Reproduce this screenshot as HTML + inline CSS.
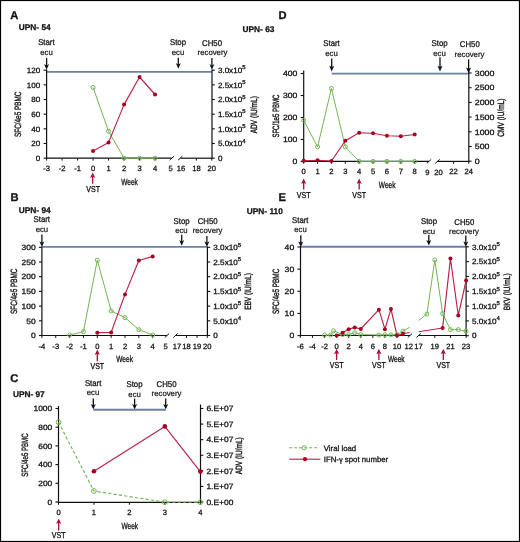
<!DOCTYPE html>
<html><head><meta charset="utf-8"><style>
html,body{margin:0;padding:0;background:#fff;}
body{width:520px;height:542px;overflow:hidden;}
svg{display:block;font-family:"Liberation Sans", sans-serif;will-change:transform;text-rendering:geometricPrecision;}
text{stroke:#111;stroke-width:0.28px;paint-order:stroke;}
text.c{stroke-width:0.3px;}
text.l{stroke-width:0.2px;}
text.y{stroke-width:0.36px;}
text.r{stroke:#ba2249;}
</style></head><body>
<svg width="520" height="542" viewBox="0 0 520 542" font-family='"Liberation Sans", sans-serif'>
<rect x="0" y="0" width="520" height="542" fill="#fff"/>
<rect x="0.5" y="0.5" width="519" height="541" fill="none" stroke="#000" stroke-width="1.2"/>
<text x="10.2" y="19.2" font-size="11.2" text-anchor="start" font-weight="bold" fill="#111">A</text>
<text x="18.8" y="30.1" font-size="8.3" text-anchor="start" font-weight="bold" fill="#111">UPN- 54</text>
<text transform="translate(46.4,44.9) scale(0.93,1)" x="0" y="0" font-size="8.4" text-anchor="middle" fill="#111">Start</text>
<text transform="translate(46.5,55.0) scale(0.985,1)" x="0" y="0" font-size="7.9" text-anchor="middle" fill="#111" class="l">ecu</text>
<line x1="46.6" y1="58.0" x2="46.6" y2="66.3" stroke="#111" stroke-width="1.3"/>
<path d="M46.6,69.8 L49.1,64.1 L47.2,65.2 L46.0,65.2 L44.1,64.1 Z" fill="#111"/>
<text transform="translate(178.0,45.0) scale(0.93,1)" x="0" y="0" font-size="8.4" text-anchor="middle" fill="#111">Stop</text>
<text transform="translate(178.0,55.0) scale(0.985,1)" x="0" y="0" font-size="7.9" text-anchor="middle" fill="#111" class="l">ecu</text>
<line x1="178.3" y1="57.8" x2="178.3" y2="65.3" stroke="#111" stroke-width="1.3"/>
<path d="M178.3,68.8 L180.8,63.099999999999994 L178.9,64.2 L177.70000000000002,64.2 L175.8,63.099999999999994 Z" fill="#111"/>
<text transform="translate(212.0,46.3) scale(0.93,1)" x="0" y="0" font-size="8.4" text-anchor="middle" fill="#111">CH50</text>
<text transform="translate(212.5,55.0) scale(0.985,1)" x="0" y="0" font-size="7.9" text-anchor="middle" fill="#111" class="l">recovery</text>
<line x1="211.9" y1="58.0" x2="211.9" y2="66.3" stroke="#111" stroke-width="1.3"/>
<path d="M211.9,69.8 L214.4,64.1 L212.5,65.2 L211.3,65.2 L209.4,64.1 Z" fill="#111"/>
<line x1="46.6" y1="71.9" x2="212.0" y2="71.9" stroke="#6a80a6" stroke-width="1.9"/>
<line x1="46.6" y1="69.5" x2="46.6" y2="158.7" stroke="#111" stroke-width="1.2"/>
<line x1="212.0" y1="69.5" x2="212.0" y2="158.7" stroke="#111" stroke-width="1.2"/>
<line x1="43.6" y1="70.2" x2="46.6" y2="70.2" stroke="#111" stroke-width="1.1"/>
<text transform="translate(40.300000000000004,72.95) scale(1.05,1)" x="0" y="0" font-size="7.7" text-anchor="end" fill="#111">120</text>
<line x1="43.6" y1="84.86" x2="46.6" y2="84.86" stroke="#111" stroke-width="1.1"/>
<text transform="translate(40.300000000000004,87.61) scale(1.05,1)" x="0" y="0" font-size="7.7" text-anchor="end" fill="#111">100</text>
<line x1="43.6" y1="99.52000000000001" x2="46.6" y2="99.52000000000001" stroke="#111" stroke-width="1.1"/>
<text transform="translate(40.300000000000004,102.27000000000001) scale(1.05,1)" x="0" y="0" font-size="7.7" text-anchor="end" fill="#111">80</text>
<line x1="43.6" y1="114.18" x2="46.6" y2="114.18" stroke="#111" stroke-width="1.1"/>
<text transform="translate(40.300000000000004,116.93) scale(1.05,1)" x="0" y="0" font-size="7.7" text-anchor="end" fill="#111">60</text>
<line x1="43.6" y1="128.84" x2="46.6" y2="128.84" stroke="#111" stroke-width="1.1"/>
<text transform="translate(40.300000000000004,131.59) scale(1.05,1)" x="0" y="0" font-size="7.7" text-anchor="end" fill="#111">40</text>
<line x1="43.6" y1="143.5" x2="46.6" y2="143.5" stroke="#111" stroke-width="1.1"/>
<text transform="translate(40.300000000000004,146.25) scale(1.05,1)" x="0" y="0" font-size="7.7" text-anchor="end" fill="#111">20</text>
<line x1="43.6" y1="158.16000000000003" x2="46.6" y2="158.16000000000003" stroke="#111" stroke-width="1.1"/>
<text transform="translate(40.300000000000004,160.91000000000003) scale(1.05,1)" x="0" y="0" font-size="7.7" text-anchor="end" fill="#111">0</text>
<line x1="212.0" y1="70.2" x2="214.8" y2="70.2" stroke="#111" stroke-width="1.1"/>
<text transform="translate(217.9,72.95) scale(1.05,1)" x="0" y="0" font-size="7.7" fill="#111">3.0x10<tspan font-size="5.698" dy="-3.5">5</tspan></text>
<line x1="212.0" y1="84.86" x2="214.8" y2="84.86" stroke="#111" stroke-width="1.1"/>
<text transform="translate(217.9,87.61) scale(1.05,1)" x="0" y="0" font-size="7.7" fill="#111">2.5x10<tspan font-size="5.698" dy="-3.5">5</tspan></text>
<line x1="212.0" y1="99.52000000000001" x2="214.8" y2="99.52000000000001" stroke="#111" stroke-width="1.1"/>
<text transform="translate(217.9,102.27000000000001) scale(1.05,1)" x="0" y="0" font-size="7.7" fill="#111">2.0x10<tspan font-size="5.698" dy="-3.5">5</tspan></text>
<line x1="212.0" y1="114.18" x2="214.8" y2="114.18" stroke="#111" stroke-width="1.1"/>
<text transform="translate(217.9,116.93) scale(1.05,1)" x="0" y="0" font-size="7.7" fill="#111">1.5x10<tspan font-size="5.698" dy="-3.5">5</tspan></text>
<line x1="212.0" y1="128.84" x2="214.8" y2="128.84" stroke="#111" stroke-width="1.1"/>
<text transform="translate(217.9,131.59) scale(1.05,1)" x="0" y="0" font-size="7.7" fill="#111">1.0x10<tspan font-size="5.698" dy="-3.5">5</tspan></text>
<line x1="212.0" y1="143.5" x2="214.8" y2="143.5" stroke="#111" stroke-width="1.1"/>
<text transform="translate(217.9,146.25) scale(1.05,1)" x="0" y="0" font-size="7.7" fill="#111">5.0x10<tspan font-size="5.698" dy="-3.5">4</tspan></text>
<line x1="212.0" y1="158.16000000000003" x2="214.8" y2="158.16000000000003" stroke="#111" stroke-width="1.1"/>
<text transform="translate(217.9,160.91000000000003) scale(1.05,1)" x="0" y="0" font-size="7.7" text-anchor="start" fill="#111">0</text>
<line x1="46.6" y1="158.2" x2="171.6" y2="158.2" stroke="#111" stroke-width="1.2"/>
<line x1="180.5" y1="158.2" x2="212.0" y2="158.2" stroke="#111" stroke-width="1.2"/>
<line x1="169.60000000000002" y1="160.2" x2="174.0" y2="156.2" stroke="#111" stroke-width="1.0"/>
<line x1="178.0" y1="160.2" x2="182.39999999999998" y2="156.2" stroke="#111" stroke-width="1.0"/>
<line x1="46.6" y1="158.2" x2="46.6" y2="160.6" stroke="#111" stroke-width="1.0"/>
<text x="46.6" y="171.2" font-size="7.6" text-anchor="middle" fill="#111">-3</text>
<line x1="62.09" y1="158.2" x2="62.09" y2="160.6" stroke="#111" stroke-width="1.0"/>
<text x="62.09" y="171.2" font-size="7.6" text-anchor="middle" fill="#111">-2</text>
<line x1="77.58" y1="158.2" x2="77.58" y2="160.6" stroke="#111" stroke-width="1.0"/>
<text x="77.58" y="171.2" font-size="7.6" text-anchor="middle" fill="#111">-1</text>
<line x1="93.07" y1="158.2" x2="93.07" y2="160.6" stroke="#111" stroke-width="1.0"/>
<text x="93.07" y="171.2" font-size="7.6" text-anchor="middle" fill="#111">0</text>
<line x1="108.56" y1="158.2" x2="108.56" y2="160.6" stroke="#111" stroke-width="1.0"/>
<text x="108.56" y="171.2" font-size="7.6" text-anchor="middle" fill="#111">1</text>
<line x1="124.05000000000001" y1="158.2" x2="124.05000000000001" y2="160.6" stroke="#111" stroke-width="1.0"/>
<text x="124.05000000000001" y="171.2" font-size="7.6" text-anchor="middle" fill="#111">2</text>
<line x1="139.54" y1="158.2" x2="139.54" y2="160.6" stroke="#111" stroke-width="1.0"/>
<text x="139.54" y="171.2" font-size="7.6" text-anchor="middle" fill="#111">3</text>
<line x1="155.03" y1="158.2" x2="155.03" y2="160.6" stroke="#111" stroke-width="1.0"/>
<text x="155.03" y="171.2" font-size="7.6" text-anchor="middle" fill="#111">4</text>
<text x="170.52" y="171.2" font-size="7.6" text-anchor="middle" fill="#111">5</text>
<line x1="196.4" y1="158.2" x2="196.4" y2="160.6" stroke="#111" stroke-width="1.0"/>
<text x="196.4" y="171.2" font-size="7.6" text-anchor="middle" fill="#111">18</text>
<line x1="211.8" y1="158.2" x2="211.8" y2="160.6" stroke="#111" stroke-width="1.0"/>
<text x="211.8" y="171.2" font-size="7.6" text-anchor="middle" fill="#111">20</text>
<text x="181.0" y="171.2" font-size="7.6" text-anchor="middle" fill="#111">16</text>
<text transform="translate(129.5,185.2) scale(0.73,1)" x="0" y="0" font-size="9.0" text-anchor="middle" fill="#111" class="c">Week</text>
<line x1="92.7" y1="176.0" x2="92.7" y2="183.7" stroke="#ad0c34" stroke-width="1.3"/>
<path d="M92.7,172.5 L95.3,178.0 L93.3,177.0 L92.10000000000001,177.0 L90.10000000000001,178.0 Z" fill="#ad0c34"/>
<text transform="translate(93.1,191.8) scale(0.82,1)" x="0" y="0" font-size="8.6" text-anchor="middle" fill="#111" class="c">VST</text>
<text class="y" transform="translate(21.0,114.3) rotate(-90) scale(0.7,1)" x="0" y="0" font-size="9.1" text-anchor="middle" fill="#111">SFC/4e5 PBMC</text>
<text class="y" transform="translate(256.7,114.7) rotate(-90) scale(0.72,1)" x="0" y="0" font-size="9.1" text-anchor="middle" fill="#111">ADV (IU/mL)</text>
<polyline points="93.07,87.4 108.56,131.3 124.05000000000001,158.2 139.54,158.2 155.03,158.2" fill="none" stroke="#73b553" stroke-width="1.0" stroke-linejoin="round"/>
<polyline points="93.07,151.1 108.56,142.4 124.05000000000001,104.6 139.54,77.0 155.03,94.5" fill="none" stroke="#ba2249" stroke-width="1.15" stroke-linejoin="round"/>
<circle cx="93.07" cy="87.4" r="2.0" fill="none" stroke="#73b553" stroke-width="1"/>
<circle cx="108.56" cy="131.3" r="2.0" fill="none" stroke="#73b553" stroke-width="1"/>
<circle cx="124.05000000000001" cy="158.2" r="2.0" fill="none" stroke="#73b553" stroke-width="1"/>
<circle cx="139.54" cy="158.2" r="2.0" fill="none" stroke="#73b553" stroke-width="1"/>
<circle cx="155.03" cy="158.2" r="2.0" fill="none" stroke="#73b553" stroke-width="1"/>
<circle cx="93.07" cy="151.1" r="2.0" fill="#a5001f"/>
<circle cx="108.56" cy="142.4" r="2.0" fill="#a5001f"/>
<circle cx="124.05000000000001" cy="104.6" r="2.0" fill="#a5001f"/>
<circle cx="139.54" cy="77.0" r="2.0" fill="#a5001f"/>
<circle cx="155.03" cy="94.5" r="2.0" fill="#a5001f"/>
<text x="10.5" y="201.0" font-size="11.2" text-anchor="start" font-weight="bold" fill="#111">B</text>
<text x="18.8" y="213.2" font-size="8.3" text-anchor="start" font-weight="bold" fill="#111">UPN- 94</text>
<text transform="translate(41.8,222.4) scale(0.93,1)" x="0" y="0" font-size="8.4" text-anchor="middle" fill="#111">Start</text>
<text transform="translate(41.9,231.6) scale(0.985,1)" x="0" y="0" font-size="7.9" text-anchor="middle" fill="#111" class="l">ecu</text>
<line x1="41.9" y1="234.6" x2="41.9" y2="243.5" stroke="#111" stroke-width="1.3"/>
<path d="M41.9,247.0 L44.4,241.3 L42.5,242.4 L41.3,242.4 L39.4,241.3 Z" fill="#111"/>
<text transform="translate(181.6,224.0) scale(0.93,1)" x="0" y="0" font-size="8.4" text-anchor="middle" fill="#111">Stop</text>
<text transform="translate(181.4,233.3) scale(0.985,1)" x="0" y="0" font-size="7.9" text-anchor="middle" fill="#111" class="l">ecu</text>
<line x1="181.7" y1="234.8" x2="181.7" y2="242.3" stroke="#111" stroke-width="1.3"/>
<path d="M181.7,245.8 L184.2,240.10000000000002 L182.29999999999998,241.20000000000002 L181.1,241.20000000000002 L179.2,240.10000000000002 Z" fill="#111"/>
<text transform="translate(207.6,223.9) scale(0.93,1)" x="0" y="0" font-size="8.4" text-anchor="middle" fill="#111">CH50</text>
<text transform="translate(207.6,232.6) scale(0.985,1)" x="0" y="0" font-size="7.9" text-anchor="middle" fill="#111" class="l">recovery</text>
<line x1="206.9" y1="236.0" x2="206.9" y2="243.5" stroke="#111" stroke-width="1.3"/>
<path d="M206.9,247.0 L209.4,241.3 L207.5,242.4 L206.3,242.4 L204.4,241.3 Z" fill="#111"/>
<line x1="41.9" y1="246.9" x2="207.4" y2="246.9" stroke="#6a80a6" stroke-width="1.9"/>
<line x1="41.9" y1="246.5" x2="41.9" y2="336.0" stroke="#111" stroke-width="1.2"/>
<line x1="207.4" y1="246.5" x2="207.4" y2="336.0" stroke="#111" stroke-width="1.2"/>
<line x1="38.9" y1="247.3" x2="41.9" y2="247.3" stroke="#111" stroke-width="1.1"/>
<text transform="translate(35.6,250.05) scale(1.1,1)" x="0" y="0" font-size="7.7" text-anchor="end" fill="#111">300</text>
<line x1="38.9" y1="262.0" x2="41.9" y2="262.0" stroke="#111" stroke-width="1.1"/>
<text transform="translate(35.6,264.75) scale(1.1,1)" x="0" y="0" font-size="7.7" text-anchor="end" fill="#111">250</text>
<line x1="38.9" y1="276.7" x2="41.9" y2="276.7" stroke="#111" stroke-width="1.1"/>
<text transform="translate(35.6,279.45) scale(1.1,1)" x="0" y="0" font-size="7.7" text-anchor="end" fill="#111">200</text>
<line x1="38.9" y1="291.4" x2="41.9" y2="291.4" stroke="#111" stroke-width="1.1"/>
<text transform="translate(35.6,294.15) scale(1.1,1)" x="0" y="0" font-size="7.7" text-anchor="end" fill="#111">150</text>
<line x1="38.9" y1="306.1" x2="41.9" y2="306.1" stroke="#111" stroke-width="1.1"/>
<text transform="translate(35.6,308.85) scale(1.1,1)" x="0" y="0" font-size="7.7" text-anchor="end" fill="#111">100</text>
<line x1="38.9" y1="320.8" x2="41.9" y2="320.8" stroke="#111" stroke-width="1.1"/>
<text transform="translate(35.6,323.55) scale(1.1,1)" x="0" y="0" font-size="7.7" text-anchor="end" fill="#111">50</text>
<line x1="38.9" y1="335.5" x2="41.9" y2="335.5" stroke="#111" stroke-width="1.1"/>
<text transform="translate(35.6,338.25) scale(1.1,1)" x="0" y="0" font-size="7.7" text-anchor="end" fill="#111">0</text>
<line x1="207.4" y1="247.3" x2="210.20000000000002" y2="247.3" stroke="#111" stroke-width="1.1"/>
<text transform="translate(213.3,250.05) scale(1.06,1)" x="0" y="0" font-size="7.7" fill="#111">3.0x10<tspan font-size="5.698" dy="-3.5">5</tspan></text>
<line x1="207.4" y1="262.0" x2="210.20000000000002" y2="262.0" stroke="#111" stroke-width="1.1"/>
<text transform="translate(213.3,264.75) scale(1.06,1)" x="0" y="0" font-size="7.7" fill="#111">2.5x10<tspan font-size="5.698" dy="-3.5">5</tspan></text>
<line x1="207.4" y1="276.7" x2="210.20000000000002" y2="276.7" stroke="#111" stroke-width="1.1"/>
<text transform="translate(213.3,279.45) scale(1.06,1)" x="0" y="0" font-size="7.7" fill="#111">2.0x10<tspan font-size="5.698" dy="-3.5">5</tspan></text>
<line x1="207.4" y1="291.4" x2="210.20000000000002" y2="291.4" stroke="#111" stroke-width="1.1"/>
<text transform="translate(213.3,294.15) scale(1.06,1)" x="0" y="0" font-size="7.7" fill="#111">1.5x10<tspan font-size="5.698" dy="-3.5">5</tspan></text>
<line x1="207.4" y1="306.1" x2="210.20000000000002" y2="306.1" stroke="#111" stroke-width="1.1"/>
<text transform="translate(213.3,308.85) scale(1.06,1)" x="0" y="0" font-size="7.7" fill="#111">1.0x10<tspan font-size="5.698" dy="-3.5">5</tspan></text>
<line x1="207.4" y1="320.8" x2="210.20000000000002" y2="320.8" stroke="#111" stroke-width="1.1"/>
<text transform="translate(213.3,323.55) scale(1.06,1)" x="0" y="0" font-size="7.7" fill="#111">5.0x10<tspan font-size="5.698" dy="-3.5">4</tspan></text>
<line x1="207.4" y1="335.5" x2="210.20000000000002" y2="335.5" stroke="#111" stroke-width="1.1"/>
<text transform="translate(213.3,338.25) scale(1.06,1)" x="0" y="0" font-size="7.7" text-anchor="start" fill="#111">0</text>
<line x1="41.9" y1="335.5" x2="167.0" y2="335.5" stroke="#111" stroke-width="1.2"/>
<line x1="175.5" y1="335.5" x2="207.4" y2="335.5" stroke="#111" stroke-width="1.2"/>
<line x1="164.8" y1="337.5" x2="169.2" y2="333.5" stroke="#111" stroke-width="1.0"/>
<line x1="173.3" y1="337.5" x2="177.7" y2="333.5" stroke="#111" stroke-width="1.0"/>
<line x1="41.9" y1="335.5" x2="41.9" y2="337.9" stroke="#111" stroke-width="1.0"/>
<text x="41.9" y="348.5" font-size="7.6" text-anchor="middle" fill="#111">-4</text>
<line x1="55.75" y1="335.5" x2="55.75" y2="337.9" stroke="#111" stroke-width="1.0"/>
<text x="55.75" y="348.5" font-size="7.6" text-anchor="middle" fill="#111">-3</text>
<line x1="69.6" y1="335.5" x2="69.6" y2="337.9" stroke="#111" stroke-width="1.0"/>
<text x="69.6" y="348.5" font-size="7.6" text-anchor="middle" fill="#111">-2</text>
<line x1="83.44999999999999" y1="335.5" x2="83.44999999999999" y2="337.9" stroke="#111" stroke-width="1.0"/>
<text x="83.44999999999999" y="348.5" font-size="7.6" text-anchor="middle" fill="#111">-1</text>
<line x1="97.3" y1="335.5" x2="97.3" y2="337.9" stroke="#111" stroke-width="1.0"/>
<text x="97.3" y="348.5" font-size="7.6" text-anchor="middle" fill="#111">0</text>
<line x1="111.15" y1="335.5" x2="111.15" y2="337.9" stroke="#111" stroke-width="1.0"/>
<text x="111.15" y="348.5" font-size="7.6" text-anchor="middle" fill="#111">1</text>
<line x1="125.0" y1="335.5" x2="125.0" y2="337.9" stroke="#111" stroke-width="1.0"/>
<text x="125.0" y="348.5" font-size="7.6" text-anchor="middle" fill="#111">2</text>
<line x1="138.85" y1="335.5" x2="138.85" y2="337.9" stroke="#111" stroke-width="1.0"/>
<text x="138.85" y="348.5" font-size="7.6" text-anchor="middle" fill="#111">3</text>
<line x1="152.7" y1="335.5" x2="152.7" y2="337.9" stroke="#111" stroke-width="1.0"/>
<text x="152.7" y="348.5" font-size="7.6" text-anchor="middle" fill="#111">4</text>
<text x="165.6" y="348.5" font-size="7.6" text-anchor="middle" fill="#111">5</text>
<line x1="186.5" y1="335.5" x2="186.5" y2="337.9" stroke="#111" stroke-width="1.0"/>
<text x="186.5" y="348.5" font-size="7.6" text-anchor="middle" fill="#111">18</text>
<line x1="197.0" y1="335.5" x2="197.0" y2="337.9" stroke="#111" stroke-width="1.0"/>
<text x="197.0" y="348.5" font-size="7.6" text-anchor="middle" fill="#111">19</text>
<line x1="207.3" y1="335.5" x2="207.3" y2="337.9" stroke="#111" stroke-width="1.0"/>
<text x="207.3" y="348.5" font-size="7.6" text-anchor="middle" fill="#111">20</text>
<text x="176.9" y="348.5" font-size="7.6" text-anchor="middle" fill="#111">17</text>
<text transform="translate(124.6,362.2) scale(0.73,1)" x="0" y="0" font-size="9.0" text-anchor="middle" fill="#111" class="c">Week</text>
<line x1="97.3" y1="353.1" x2="97.3" y2="361.2" stroke="#ad0c34" stroke-width="1.3"/>
<path d="M97.3,349.6 L99.89999999999999,355.1 L97.89999999999999,354.1 L96.7,354.1 L94.7,355.1 Z" fill="#ad0c34"/>
<text transform="translate(97.3,369.0) scale(0.82,1)" x="0" y="0" font-size="8.6" text-anchor="middle" fill="#111" class="c">VST</text>
<text class="y" transform="translate(16.5,291.3) rotate(-90) scale(0.7,1)" x="0" y="0" font-size="9.1" text-anchor="middle" fill="#111">SFC/4e5 PBMC</text>
<text class="y" transform="translate(251.1,291.5) rotate(-90) scale(0.72,1)" x="0" y="0" font-size="9.1" text-anchor="middle" fill="#111">EBV (IU/mL)</text>
<polyline points="69.6,335.0 83.44999999999999,331.7 97.3,260.2 111.15,310.9 125.0,317.6 138.85,329.7 152.7,335.0" fill="none" stroke="#73b553" stroke-width="1.0" stroke-linejoin="round"/>
<polyline points="97.3,332.8 111.15,332.4 125.0,294.4 138.85,260.5 152.7,256.4" fill="none" stroke="#ba2249" stroke-width="1.15" stroke-linejoin="round"/>
<circle cx="69.6" cy="335.0" r="2.0" fill="none" stroke="#73b553" stroke-width="1"/>
<circle cx="83.44999999999999" cy="331.7" r="2.0" fill="none" stroke="#73b553" stroke-width="1"/>
<circle cx="97.3" cy="260.2" r="2.0" fill="none" stroke="#73b553" stroke-width="1"/>
<circle cx="111.15" cy="310.9" r="2.0" fill="none" stroke="#73b553" stroke-width="1"/>
<circle cx="125.0" cy="317.6" r="2.0" fill="none" stroke="#73b553" stroke-width="1"/>
<circle cx="138.85" cy="329.7" r="2.0" fill="none" stroke="#73b553" stroke-width="1"/>
<circle cx="152.7" cy="335.0" r="2.0" fill="none" stroke="#73b553" stroke-width="1"/>
<circle cx="97.3" cy="332.8" r="2.0" fill="#a5001f"/>
<circle cx="111.15" cy="332.4" r="2.0" fill="#a5001f"/>
<circle cx="125.0" cy="294.4" r="2.0" fill="#a5001f"/>
<circle cx="138.85" cy="260.5" r="2.0" fill="#a5001f"/>
<circle cx="152.7" cy="256.4" r="2.0" fill="#a5001f"/>
<text x="10.2" y="381.8" font-size="11.2" text-anchor="start" font-weight="bold" fill="#111">C</text>
<text x="12.9" y="397.2" font-size="8.3" text-anchor="start" font-weight="bold" fill="#111">UPN- 97</text>
<text transform="translate(93.1,385.7) scale(0.93,1)" x="0" y="0" font-size="8.4" text-anchor="middle" fill="#111">Start</text>
<text transform="translate(93.0,395.4) scale(0.985,1)" x="0" y="0" font-size="7.9" text-anchor="middle" fill="#111" class="l">ecu</text>
<line x1="93.3" y1="398.6" x2="93.3" y2="406.1" stroke="#111" stroke-width="1.3"/>
<path d="M93.3,409.6 L95.8,403.90000000000003 L93.89999999999999,405.0 L92.7,405.0 L90.8,403.90000000000003 Z" fill="#111"/>
<text transform="translate(134.5,387.3) scale(0.93,1)" x="0" y="0" font-size="8.4" text-anchor="middle" fill="#111">Stop</text>
<text transform="translate(134.6,397.0) scale(0.985,1)" x="0" y="0" font-size="7.9" text-anchor="middle" fill="#111" class="l">ecu</text>
<line x1="134.6" y1="398.6" x2="134.6" y2="406.1" stroke="#111" stroke-width="1.3"/>
<path d="M134.6,409.6 L137.1,403.90000000000003 L135.2,405.0 L134.0,405.0 L132.1,403.90000000000003 Z" fill="#111"/>
<text transform="translate(166.5,387.2) scale(0.93,1)" x="0" y="0" font-size="8.4" text-anchor="middle" fill="#111">CH50</text>
<text transform="translate(166.5,396.0) scale(0.985,1)" x="0" y="0" font-size="7.9" text-anchor="middle" fill="#111" class="l">recovery</text>
<line x1="165.7" y1="398.6" x2="165.7" y2="406.1" stroke="#111" stroke-width="1.3"/>
<path d="M165.7,409.6 L168.2,403.90000000000003 L166.29999999999998,405.0 L165.1,405.0 L163.2,403.90000000000003 Z" fill="#111"/>
<line x1="93.3" y1="409.8" x2="165.7" y2="409.8" stroke="#6a80a6" stroke-width="1.9"/>
<line x1="58.5" y1="406.0" x2="58.5" y2="502.9" stroke="#111" stroke-width="1.2"/>
<line x1="200.5" y1="404.5" x2="200.5" y2="502.9" stroke="#111" stroke-width="1.2"/>
<line x1="55.5" y1="408.5" x2="58.5" y2="408.5" stroke="#111" stroke-width="1.1"/>
<text transform="translate(52.2,411.25) scale(1.09,1)" x="0" y="0" font-size="7.7" text-anchor="end" fill="#111">1000</text>
<line x1="55.5" y1="427.2" x2="58.5" y2="427.2" stroke="#111" stroke-width="1.1"/>
<text transform="translate(52.2,429.95) scale(1.09,1)" x="0" y="0" font-size="7.7" text-anchor="end" fill="#111">800</text>
<line x1="55.5" y1="445.9" x2="58.5" y2="445.9" stroke="#111" stroke-width="1.1"/>
<text transform="translate(52.2,448.65) scale(1.09,1)" x="0" y="0" font-size="7.7" text-anchor="end" fill="#111">600</text>
<line x1="55.5" y1="464.6" x2="58.5" y2="464.6" stroke="#111" stroke-width="1.1"/>
<text transform="translate(52.2,467.35) scale(1.09,1)" x="0" y="0" font-size="7.7" text-anchor="end" fill="#111">400</text>
<line x1="55.5" y1="483.3" x2="58.5" y2="483.3" stroke="#111" stroke-width="1.1"/>
<text transform="translate(52.2,486.05) scale(1.09,1)" x="0" y="0" font-size="7.7" text-anchor="end" fill="#111">200</text>
<line x1="55.5" y1="502.0" x2="58.5" y2="502.0" stroke="#111" stroke-width="1.1"/>
<text transform="translate(52.2,504.75) scale(1.09,1)" x="0" y="0" font-size="7.7" text-anchor="end" fill="#111">0</text>
<line x1="200.5" y1="408.5" x2="203.3" y2="408.5" stroke="#111" stroke-width="1.1"/>
<text transform="translate(206.4,411.25) scale(1.1,1)" x="0" y="0" font-size="7.7" text-anchor="start" fill="#111">6.E+07</text>
<line x1="200.5" y1="424.083" x2="203.3" y2="424.083" stroke="#111" stroke-width="1.1"/>
<text transform="translate(206.4,426.833) scale(1.1,1)" x="0" y="0" font-size="7.7" text-anchor="start" fill="#111">5.E+07</text>
<line x1="200.5" y1="439.666" x2="203.3" y2="439.666" stroke="#111" stroke-width="1.1"/>
<text transform="translate(206.4,442.416) scale(1.1,1)" x="0" y="0" font-size="7.7" text-anchor="start" fill="#111">4.E+07</text>
<line x1="200.5" y1="455.249" x2="203.3" y2="455.249" stroke="#111" stroke-width="1.1"/>
<text transform="translate(206.4,457.999) scale(1.1,1)" x="0" y="0" font-size="7.7" text-anchor="start" fill="#111">3.E+07</text>
<line x1="200.5" y1="470.832" x2="203.3" y2="470.832" stroke="#111" stroke-width="1.1"/>
<text transform="translate(206.4,473.582) scale(1.1,1)" x="0" y="0" font-size="7.7" text-anchor="start" fill="#111">2.E+07</text>
<line x1="200.5" y1="486.415" x2="203.3" y2="486.415" stroke="#111" stroke-width="1.1"/>
<text transform="translate(206.4,489.165) scale(1.1,1)" x="0" y="0" font-size="7.7" text-anchor="start" fill="#111">1.E+07</text>
<line x1="200.5" y1="501.998" x2="203.3" y2="501.998" stroke="#111" stroke-width="1.1"/>
<text transform="translate(206.4,504.748) scale(1.1,1)" x="0" y="0" font-size="7.7" text-anchor="start" fill="#111">0.E+00</text>
<line x1="58.5" y1="502.4" x2="200.5" y2="502.4" stroke="#111" stroke-width="1.2"/>
<line x1="58.5" y1="502.4" x2="58.5" y2="504.79999999999995" stroke="#111" stroke-width="1.0"/>
<text x="58.5" y="515.4" font-size="7.6" text-anchor="middle" fill="#111">0</text>
<line x1="93.95" y1="502.4" x2="93.95" y2="504.79999999999995" stroke="#111" stroke-width="1.0"/>
<text x="93.95" y="515.4" font-size="7.6" text-anchor="middle" fill="#111">1</text>
<line x1="129.4" y1="502.4" x2="129.4" y2="504.79999999999995" stroke="#111" stroke-width="1.0"/>
<text x="129.4" y="515.4" font-size="7.6" text-anchor="middle" fill="#111">2</text>
<line x1="164.85000000000002" y1="502.4" x2="164.85000000000002" y2="504.79999999999995" stroke="#111" stroke-width="1.0"/>
<text x="164.85000000000002" y="515.4" font-size="7.6" text-anchor="middle" fill="#111">3</text>
<line x1="200.3" y1="502.4" x2="200.3" y2="504.79999999999995" stroke="#111" stroke-width="1.0"/>
<text x="200.3" y="515.4" font-size="7.6" text-anchor="middle" fill="#111">4</text>
<text transform="translate(129.8,529.3) scale(0.73,1)" x="0" y="0" font-size="9.0" text-anchor="middle" fill="#111" class="c">Week</text>
<line x1="58.7" y1="522.1" x2="58.7" y2="530.5" stroke="#ad0c34" stroke-width="1.3"/>
<path d="M58.7,518.6 L61.300000000000004,524.1 L59.300000000000004,523.1 L58.1,523.1 L56.1,524.1 Z" fill="#ad0c34"/>
<text transform="translate(58.7,538.4) scale(0.82,1)" x="0" y="0" font-size="8.6" text-anchor="middle" fill="#111" class="c">VST</text>
<text class="y" transform="translate(28.4,455.1) rotate(-90) scale(0.67,1)" x="0" y="0" font-size="9.1" text-anchor="middle" fill="#111">SFC/4e5 PBMC</text>
<text class="y" transform="translate(241.9,455.8) rotate(-90) scale(0.72,1)" x="0" y="0" font-size="9.1" text-anchor="middle" fill="#111">ADV (IU/mL)</text>
<polyline points="58.5,422.2 93.95,491.0 164.85000000000002,502.2 200.3,502.2" fill="none" stroke="#73b553" stroke-width="1.15" stroke-linejoin="round" stroke-dasharray="3.2,2.2"/>
<polyline points="93.95,471.2 164.85000000000002,426.4 200.3,471.6" fill="none" stroke="#ba2249" stroke-width="1.15" stroke-linejoin="round"/>
<circle cx="58.5" cy="422.2" r="2.4" fill="none" stroke="#73b553" stroke-width="1"/>
<circle cx="93.95" cy="491.0" r="2.4" fill="none" stroke="#73b553" stroke-width="1"/>
<circle cx="164.85000000000002" cy="502.2" r="2.4" fill="none" stroke="#73b553" stroke-width="1"/>
<circle cx="200.3" cy="502.2" r="2.4" fill="none" stroke="#73b553" stroke-width="1"/>
<circle cx="93.95" cy="471.2" r="2.3" fill="#a5001f"/>
<circle cx="164.85000000000002" cy="426.4" r="2.3" fill="#a5001f"/>
<circle cx="200.3" cy="471.6" r="2.3" fill="#a5001f"/>
<text x="278.4" y="19.2" font-size="11.2" text-anchor="start" font-weight="bold" fill="#111">D</text>
<text x="242.6" y="32.3" font-size="8.3" text-anchor="start" font-weight="bold" fill="#111">UPN- 63</text>
<text transform="translate(331.5,46.3) scale(0.93,1)" x="0" y="0" font-size="8.4" text-anchor="middle" fill="#111">Start</text>
<text transform="translate(331.5,56.0) scale(0.985,1)" x="0" y="0" font-size="7.9" text-anchor="middle" fill="#111" class="l">ecu</text>
<line x1="331.7" y1="58.6" x2="331.7" y2="67.9" stroke="#111" stroke-width="1.3"/>
<path d="M331.7,71.4 L334.2,65.7 L332.3,66.80000000000001 L331.09999999999997,66.80000000000001 L329.2,65.7 Z" fill="#111"/>
<text transform="translate(439.6,46.0) scale(0.93,1)" x="0" y="0" font-size="8.4" text-anchor="middle" fill="#111">Stop</text>
<text transform="translate(439.5,55.7) scale(0.985,1)" x="0" y="0" font-size="7.9" text-anchor="middle" fill="#111" class="l">ecu</text>
<line x1="440.0" y1="57.2" x2="440.0" y2="67.9" stroke="#111" stroke-width="1.3"/>
<path d="M440.0,71.4 L442.5,65.7 L440.6,66.80000000000001 L439.4,66.80000000000001 L437.5,65.7 Z" fill="#111"/>
<text transform="translate(469.8,46.8) scale(0.93,1)" x="0" y="0" font-size="8.4" text-anchor="middle" fill="#111">CH50</text>
<text transform="translate(469.5,56.6) scale(0.985,1)" x="0" y="0" font-size="7.9" text-anchor="middle" fill="#111" class="l">recovery</text>
<line x1="468.6" y1="59.4" x2="468.6" y2="69.7" stroke="#111" stroke-width="1.3"/>
<path d="M468.6,73.2 L471.1,67.5 L469.20000000000005,68.60000000000001 L468.0,68.60000000000001 L466.1,67.5 Z" fill="#111"/>
<line x1="331.7" y1="73.6" x2="468.8" y2="73.6" stroke="#6a80a6" stroke-width="1.9"/>
<line x1="303.7" y1="70.6" x2="303.7" y2="161.9" stroke="#111" stroke-width="1.2"/>
<line x1="468.8" y1="71.0" x2="468.8" y2="161.9" stroke="#111" stroke-width="1.2"/>
<line x1="300.7" y1="73.5" x2="303.7" y2="73.5" stroke="#111" stroke-width="1.1"/>
<text transform="translate(297.4,76.25) scale(1.13,1)" x="0" y="0" font-size="7.7" text-anchor="end" fill="#111">400</text>
<line x1="300.7" y1="95.5" x2="303.7" y2="95.5" stroke="#111" stroke-width="1.1"/>
<text transform="translate(297.4,98.25) scale(1.13,1)" x="0" y="0" font-size="7.7" text-anchor="end" fill="#111">300</text>
<line x1="300.7" y1="117.5" x2="303.7" y2="117.5" stroke="#111" stroke-width="1.1"/>
<text transform="translate(297.4,120.25) scale(1.13,1)" x="0" y="0" font-size="7.7" text-anchor="end" fill="#111">200</text>
<line x1="300.7" y1="139.5" x2="303.7" y2="139.5" stroke="#111" stroke-width="1.1"/>
<text transform="translate(297.4,142.25) scale(1.13,1)" x="0" y="0" font-size="7.7" text-anchor="end" fill="#111">100</text>
<line x1="300.7" y1="161.5" x2="303.7" y2="161.5" stroke="#111" stroke-width="1.1"/>
<text transform="translate(297.4,164.25) scale(1.13,1)" x="0" y="0" font-size="7.7" text-anchor="end" fill="#111">0</text>
<line x1="468.8" y1="73.0" x2="471.6" y2="73.0" stroke="#111" stroke-width="1.1"/>
<text transform="translate(474.7,75.75) scale(1.155,1)" x="0" y="0" font-size="7.7" text-anchor="start" fill="#111">3000</text>
<line x1="468.8" y1="87.7" x2="471.6" y2="87.7" stroke="#111" stroke-width="1.1"/>
<text transform="translate(474.7,90.45) scale(1.155,1)" x="0" y="0" font-size="7.7" text-anchor="start" fill="#111">2500</text>
<line x1="468.8" y1="102.4" x2="471.6" y2="102.4" stroke="#111" stroke-width="1.1"/>
<text transform="translate(474.7,105.15) scale(1.155,1)" x="0" y="0" font-size="7.7" text-anchor="start" fill="#111">2000</text>
<line x1="468.8" y1="117.1" x2="471.6" y2="117.1" stroke="#111" stroke-width="1.1"/>
<text transform="translate(474.7,119.85) scale(1.155,1)" x="0" y="0" font-size="7.7" text-anchor="start" fill="#111">1500</text>
<line x1="468.8" y1="131.8" x2="471.6" y2="131.8" stroke="#111" stroke-width="1.1"/>
<text transform="translate(474.7,134.55) scale(1.155,1)" x="0" y="0" font-size="7.7" text-anchor="start" fill="#111">1000</text>
<line x1="468.8" y1="146.5" x2="471.6" y2="146.5" stroke="#111" stroke-width="1.1"/>
<text transform="translate(474.7,149.25) scale(1.155,1)" x="0" y="0" font-size="7.7" text-anchor="start" fill="#111">500</text>
<line x1="468.8" y1="161.2" x2="471.6" y2="161.2" stroke="#111" stroke-width="1.1"/>
<text transform="translate(474.7,163.95) scale(1.155,1)" x="0" y="0" font-size="7.7" text-anchor="start" fill="#111">0</text>
<line x1="303.7" y1="161.4" x2="429.0" y2="161.4" stroke="#111" stroke-width="1.2"/>
<line x1="437.5" y1="161.4" x2="468.8" y2="161.4" stroke="#111" stroke-width="1.2"/>
<line x1="426.8" y1="163.4" x2="431.2" y2="159.4" stroke="#111" stroke-width="1.0"/>
<line x1="435.3" y1="163.4" x2="439.7" y2="159.4" stroke="#111" stroke-width="1.0"/>
<line x1="303.7" y1="161.4" x2="303.7" y2="163.8" stroke="#111" stroke-width="1.0"/>
<text x="303.7" y="174.4" font-size="7.6" text-anchor="middle" fill="#111">0</text>
<line x1="317.57" y1="161.4" x2="317.57" y2="163.8" stroke="#111" stroke-width="1.0"/>
<text x="317.57" y="174.4" font-size="7.6" text-anchor="middle" fill="#111">1</text>
<line x1="331.44" y1="161.4" x2="331.44" y2="163.8" stroke="#111" stroke-width="1.0"/>
<text x="331.44" y="174.4" font-size="7.6" text-anchor="middle" fill="#111">2</text>
<line x1="345.31" y1="161.4" x2="345.31" y2="163.8" stroke="#111" stroke-width="1.0"/>
<text x="345.31" y="174.4" font-size="7.6" text-anchor="middle" fill="#111">3</text>
<line x1="359.18" y1="161.4" x2="359.18" y2="163.8" stroke="#111" stroke-width="1.0"/>
<text x="359.18" y="174.4" font-size="7.6" text-anchor="middle" fill="#111">4</text>
<line x1="373.04999999999995" y1="161.4" x2="373.04999999999995" y2="163.8" stroke="#111" stroke-width="1.0"/>
<text x="373.04999999999995" y="174.4" font-size="7.6" text-anchor="middle" fill="#111">5</text>
<line x1="386.91999999999996" y1="161.4" x2="386.91999999999996" y2="163.8" stroke="#111" stroke-width="1.0"/>
<text x="386.91999999999996" y="174.4" font-size="7.6" text-anchor="middle" fill="#111">6</text>
<line x1="400.78999999999996" y1="161.4" x2="400.78999999999996" y2="163.8" stroke="#111" stroke-width="1.0"/>
<text x="400.78999999999996" y="174.4" font-size="7.6" text-anchor="middle" fill="#111">7</text>
<line x1="414.65999999999997" y1="161.4" x2="414.65999999999997" y2="163.8" stroke="#111" stroke-width="1.0"/>
<text x="414.65999999999997" y="174.4" font-size="7.6" text-anchor="middle" fill="#111">8</text>
<text x="427.3" y="174.6" font-size="7.6" text-anchor="middle" fill="#111">9</text>
<line x1="453.6" y1="161.4" x2="453.6" y2="163.8" stroke="#111" stroke-width="1.0"/>
<text x="453.6" y="174.4" font-size="7.6" text-anchor="middle" fill="#111">22</text>
<line x1="468.8" y1="161.4" x2="468.8" y2="163.8" stroke="#111" stroke-width="1.0"/>
<text x="468.8" y="174.4" font-size="7.6" text-anchor="middle" fill="#111">24</text>
<text x="438.5" y="174.6" font-size="7.6" text-anchor="middle" fill="#111">20</text>
<text transform="translate(387.2,188.0) scale(0.73,1)" x="0" y="0" font-size="9.0" text-anchor="middle" fill="#111" class="c">Week</text>
<line x1="303.7" y1="181.9" x2="303.7" y2="189.6" stroke="#ad0c34" stroke-width="1.3"/>
<path d="M303.7,178.4 L306.3,183.9 L304.3,182.9 L303.09999999999997,182.9 L301.09999999999997,183.9 Z" fill="#ad0c34"/>
<text transform="translate(303.7,197.6) scale(0.82,1)" x="0" y="0" font-size="8.6" text-anchor="middle" fill="#111" class="c">VST</text>
<line x1="359.18" y1="181.9" x2="359.18" y2="189.6" stroke="#ad0c34" stroke-width="1.3"/>
<path d="M359.18,178.4 L361.78000000000003,183.9 L359.78000000000003,182.9 L358.58,182.9 L356.58,183.9 Z" fill="#ad0c34"/>
<text transform="translate(359.18,197.6) scale(0.82,1)" x="0" y="0" font-size="8.6" text-anchor="middle" fill="#111" class="c">VST</text>
<text class="y" transform="translate(278.7,116.1) rotate(-90) scale(0.665,1)" x="0" y="0" font-size="9.1" text-anchor="middle" fill="#111">SFC/1e5 PBMC</text>
<text class="y" transform="translate(504.1,117.6) rotate(-90) scale(0.72,1)" x="0" y="0" font-size="9.1" text-anchor="middle" fill="#111">CMV (IU/mL)</text>
<polyline points="303.7,120.4 317.57,146.9 331.44,88.5 345.31,146.9 359.18,161.4 373.04999999999995,161.4 386.91999999999996,161.4 400.78999999999996,161.4 414.65999999999997,161.4" fill="none" stroke="#73b553" stroke-width="1.0" stroke-linejoin="round"/>
<polyline points="303.7,160.8 317.57,160.3 331.44,161.0 345.31,140.7 359.18,132.8 373.04999999999995,133.3 386.91999999999996,135.8 400.78999999999996,136.3 414.65999999999997,134.5" fill="none" stroke="#ba2249" stroke-width="1.15" stroke-linejoin="round"/>
<circle cx="303.7" cy="120.4" r="2.0" fill="none" stroke="#73b553" stroke-width="1"/>
<circle cx="317.57" cy="146.9" r="2.0" fill="none" stroke="#73b553" stroke-width="1"/>
<circle cx="331.44" cy="88.5" r="2.0" fill="none" stroke="#73b553" stroke-width="1"/>
<circle cx="345.31" cy="146.9" r="2.0" fill="none" stroke="#73b553" stroke-width="1"/>
<circle cx="359.18" cy="161.4" r="2.0" fill="none" stroke="#73b553" stroke-width="1"/>
<circle cx="373.04999999999995" cy="161.4" r="2.0" fill="none" stroke="#73b553" stroke-width="1"/>
<circle cx="386.91999999999996" cy="161.4" r="2.0" fill="none" stroke="#73b553" stroke-width="1"/>
<circle cx="400.78999999999996" cy="161.4" r="2.0" fill="none" stroke="#73b553" stroke-width="1"/>
<circle cx="414.65999999999997" cy="161.4" r="2.0" fill="none" stroke="#73b553" stroke-width="1"/>
<circle cx="303.7" cy="160.8" r="2.0" fill="#a5001f"/>
<circle cx="317.57" cy="160.3" r="2.0" fill="#a5001f"/>
<circle cx="331.44" cy="161.0" r="2.0" fill="#a5001f"/>
<circle cx="345.31" cy="140.7" r="2.0" fill="#a5001f"/>
<circle cx="359.18" cy="132.8" r="2.0" fill="#a5001f"/>
<circle cx="373.04999999999995" cy="133.3" r="2.0" fill="#a5001f"/>
<circle cx="386.91999999999996" cy="135.8" r="2.0" fill="#a5001f"/>
<circle cx="400.78999999999996" cy="136.3" r="2.0" fill="#a5001f"/>
<circle cx="414.65999999999997" cy="134.5" r="2.0" fill="#a5001f"/>
<text x="278.4" y="201.0" font-size="11.2" text-anchor="start" font-weight="bold" fill="#111">E</text>
<text x="246.8" y="214.1" font-size="8.3" text-anchor="start" font-weight="bold" fill="#111">UPN- 110</text>
<text transform="translate(300.3,222.8) scale(0.93,1)" x="0" y="0" font-size="8.4" text-anchor="middle" fill="#111">Start</text>
<text transform="translate(300.5,232.0) scale(0.985,1)" x="0" y="0" font-size="7.9" text-anchor="middle" fill="#111" class="l">ecu</text>
<line x1="300.8" y1="235.2" x2="300.8" y2="243.7" stroke="#111" stroke-width="1.3"/>
<path d="M300.8,247.2 L303.3,241.5 L301.40000000000003,242.6 L300.2,242.6 L298.3,241.5 Z" fill="#111"/>
<text transform="translate(429.0,223.6) scale(0.93,1)" x="0" y="0" font-size="8.4" text-anchor="middle" fill="#111">Stop</text>
<text transform="translate(428.9,233.8) scale(0.985,1)" x="0" y="0" font-size="7.9" text-anchor="middle" fill="#111" class="l">ecu</text>
<line x1="428.8" y1="235.0" x2="428.8" y2="242.1" stroke="#111" stroke-width="1.3"/>
<path d="M428.8,245.6 L431.3,239.9 L429.40000000000003,241.0 L428.2,241.0 L426.3,239.9 Z" fill="#111"/>
<text transform="translate(464.3,225.1) scale(0.93,1)" x="0" y="0" font-size="8.4" text-anchor="middle" fill="#111">CH50</text>
<text transform="translate(464.0,234.1) scale(0.985,1)" x="0" y="0" font-size="7.9" text-anchor="middle" fill="#111" class="l">recovery</text>
<line x1="465.8" y1="235.6" x2="465.8" y2="243.5" stroke="#111" stroke-width="1.3"/>
<path d="M465.8,247.0 L468.3,241.3 L466.40000000000003,242.4 L465.2,242.4 L463.3,241.3 Z" fill="#111"/>
<line x1="300.5" y1="246.8" x2="466.1" y2="246.8" stroke="#6a80a6" stroke-width="1.9"/>
<line x1="300.5" y1="246.0" x2="300.5" y2="336.0" stroke="#111" stroke-width="1.2"/>
<line x1="466.1" y1="246.0" x2="466.1" y2="336.0" stroke="#111" stroke-width="1.2"/>
<line x1="297.5" y1="247.0" x2="300.5" y2="247.0" stroke="#111" stroke-width="1.1"/>
<text transform="translate(294.2,249.75) scale(1.12,1)" x="0" y="0" font-size="7.7" text-anchor="end" fill="#111">40</text>
<line x1="297.5" y1="269.15" x2="300.5" y2="269.15" stroke="#111" stroke-width="1.1"/>
<text transform="translate(294.2,271.9) scale(1.12,1)" x="0" y="0" font-size="7.7" text-anchor="end" fill="#111">30</text>
<line x1="297.5" y1="291.3" x2="300.5" y2="291.3" stroke="#111" stroke-width="1.1"/>
<text transform="translate(294.2,294.05) scale(1.12,1)" x="0" y="0" font-size="7.7" text-anchor="end" fill="#111">20</text>
<line x1="297.5" y1="313.45" x2="300.5" y2="313.45" stroke="#111" stroke-width="1.1"/>
<text transform="translate(294.2,316.2) scale(1.12,1)" x="0" y="0" font-size="7.7" text-anchor="end" fill="#111">10</text>
<line x1="297.5" y1="335.6" x2="300.5" y2="335.6" stroke="#111" stroke-width="1.1"/>
<text transform="translate(294.2,338.35) scale(1.12,1)" x="0" y="0" font-size="7.7" text-anchor="end" fill="#111">0</text>
<line x1="466.1" y1="246.8" x2="468.90000000000003" y2="246.8" stroke="#111" stroke-width="1.1"/>
<text transform="translate(472.0,249.55) scale(1.06,1)" x="0" y="0" font-size="7.7" fill="#111">3.0x10<tspan font-size="5.698" dy="-3.5">5</tspan></text>
<line x1="466.1" y1="261.62" x2="468.90000000000003" y2="261.62" stroke="#111" stroke-width="1.1"/>
<text transform="translate(472.0,264.37) scale(1.06,1)" x="0" y="0" font-size="7.7" fill="#111">2.5x10<tspan font-size="5.698" dy="-3.5">5</tspan></text>
<line x1="466.1" y1="276.44" x2="468.90000000000003" y2="276.44" stroke="#111" stroke-width="1.1"/>
<text transform="translate(472.0,279.19) scale(1.06,1)" x="0" y="0" font-size="7.7" fill="#111">2.0x10<tspan font-size="5.698" dy="-3.5">5</tspan></text>
<line x1="466.1" y1="291.26" x2="468.90000000000003" y2="291.26" stroke="#111" stroke-width="1.1"/>
<text transform="translate(472.0,294.01) scale(1.06,1)" x="0" y="0" font-size="7.7" fill="#111">1.5x10<tspan font-size="5.698" dy="-3.5">5</tspan></text>
<line x1="466.1" y1="306.08000000000004" x2="468.90000000000003" y2="306.08000000000004" stroke="#111" stroke-width="1.1"/>
<text transform="translate(472.0,308.83000000000004) scale(1.06,1)" x="0" y="0" font-size="7.7" fill="#111">1.0x10<tspan font-size="5.698" dy="-3.5">5</tspan></text>
<line x1="466.1" y1="320.9" x2="468.90000000000003" y2="320.9" stroke="#111" stroke-width="1.1"/>
<text transform="translate(472.0,323.65) scale(1.06,1)" x="0" y="0" font-size="7.7" fill="#111">5.0x10<tspan font-size="5.698" dy="-3.5">4</tspan></text>
<line x1="466.1" y1="335.72" x2="468.90000000000003" y2="335.72" stroke="#111" stroke-width="1.1"/>
<text transform="translate(472.0,338.47) scale(1.06,1)" x="0" y="0" font-size="7.7" text-anchor="start" fill="#111">0</text>
<line x1="300.5" y1="335.5" x2="410.0" y2="335.5" stroke="#111" stroke-width="1.2"/>
<line x1="418.6" y1="335.5" x2="466.1" y2="335.5" stroke="#111" stroke-width="1.2"/>
<line x1="407.8" y1="337.5" x2="412.2" y2="333.5" stroke="#111" stroke-width="1.0"/>
<line x1="416.40000000000003" y1="337.5" x2="420.8" y2="333.5" stroke="#111" stroke-width="1.0"/>
<line x1="300.36" y1="335.5" x2="300.36" y2="337.9" stroke="#111" stroke-width="1.0"/>
<text x="300.36" y="348.5" font-size="7.6" text-anchor="middle" fill="#111">-6</text>
<line x1="312.44" y1="335.5" x2="312.44" y2="337.9" stroke="#111" stroke-width="1.0"/>
<text x="312.44" y="348.5" font-size="7.6" text-anchor="middle" fill="#111">-4</text>
<line x1="324.52000000000004" y1="335.5" x2="324.52000000000004" y2="337.9" stroke="#111" stroke-width="1.0"/>
<text x="324.52000000000004" y="348.5" font-size="7.6" text-anchor="middle" fill="#111">-2</text>
<line x1="336.6" y1="335.5" x2="336.6" y2="337.9" stroke="#111" stroke-width="1.0"/>
<text x="336.6" y="348.5" font-size="7.6" text-anchor="middle" fill="#111">0</text>
<line x1="348.68" y1="335.5" x2="348.68" y2="337.9" stroke="#111" stroke-width="1.0"/>
<text x="348.68" y="348.5" font-size="7.6" text-anchor="middle" fill="#111">2</text>
<line x1="360.76000000000005" y1="335.5" x2="360.76000000000005" y2="337.9" stroke="#111" stroke-width="1.0"/>
<text x="360.76000000000005" y="348.5" font-size="7.6" text-anchor="middle" fill="#111">4</text>
<line x1="372.84000000000003" y1="335.5" x2="372.84000000000003" y2="337.9" stroke="#111" stroke-width="1.0"/>
<text x="372.84000000000003" y="348.5" font-size="7.6" text-anchor="middle" fill="#111">6</text>
<line x1="384.92" y1="335.5" x2="384.92" y2="337.9" stroke="#111" stroke-width="1.0"/>
<text x="384.92" y="348.5" font-size="7.6" text-anchor="middle" fill="#111">8</text>
<line x1="397.0" y1="335.5" x2="397.0" y2="337.9" stroke="#111" stroke-width="1.0"/>
<text x="397.0" y="348.5" font-size="7.6" text-anchor="middle" fill="#111">10</text>
<text x="408.8" y="348.7" font-size="7.6" text-anchor="middle" fill="#111">12</text>
<text x="418.6" y="348.7" font-size="7.6" text-anchor="middle" fill="#111">17</text>
<line x1="434.78000000000003" y1="335.5" x2="434.78000000000003" y2="337.9" stroke="#111" stroke-width="1.0"/>
<text x="434.78000000000003" y="348.5" font-size="7.6" text-anchor="middle" fill="#111">19</text>
<line x1="450.44" y1="335.5" x2="450.44" y2="337.9" stroke="#111" stroke-width="1.0"/>
<text x="450.44" y="348.5" font-size="7.6" text-anchor="middle" fill="#111">21</text>
<line x1="466.1" y1="335.5" x2="466.1" y2="337.9" stroke="#111" stroke-width="1.0"/>
<text x="466.1" y="348.5" font-size="7.6" text-anchor="middle" fill="#111">23</text>
<text transform="translate(396.3,362.0) scale(0.73,1)" x="0" y="0" font-size="9.0" text-anchor="middle" fill="#111" class="c">Week</text>
<line x1="336.6" y1="352.2" x2="336.6" y2="360.0" stroke="#ad0c34" stroke-width="1.3"/>
<path d="M336.6,348.7 L339.20000000000005,354.2 L337.20000000000005,353.2 L336.0,353.2 L334.0,354.2 Z" fill="#ad0c34"/>
<text transform="translate(336.6,368.1) scale(0.82,1)" x="0" y="0" font-size="8.6" text-anchor="middle" fill="#111" class="c">VST</text>
<line x1="378.88" y1="352.2" x2="378.88" y2="360.0" stroke="#ad0c34" stroke-width="1.3"/>
<path d="M378.88,348.7 L381.48,354.2 L379.48,353.2 L378.28,353.2 L376.28,354.2 Z" fill="#ad0c34"/>
<text transform="translate(378.88,368.1) scale(0.82,1)" x="0" y="0" font-size="8.6" text-anchor="middle" fill="#111" class="c">VST</text>
<line x1="443.3" y1="352.2" x2="443.3" y2="360.0" stroke="#ad0c34" stroke-width="1.3"/>
<path d="M443.3,348.7 L445.90000000000003,354.2 L443.90000000000003,353.2 L442.7,353.2 L440.7,354.2 Z" fill="#ad0c34"/>
<text transform="translate(443.3,368.1) scale(0.82,1)" x="0" y="0" font-size="8.6" text-anchor="middle" fill="#111" class="c">VST</text>
<text class="y" transform="translate(279.4,291.4) rotate(-90) scale(0.7,1)" x="0" y="0" font-size="9.1" text-anchor="middle" fill="#111">SFC/4e5 PBMC</text>
<text class="y" transform="translate(509.6,291.8) rotate(-90) scale(0.72,1)" x="0" y="0" font-size="9.1" text-anchor="middle" fill="#111">BKV (IU/mL)</text>
<polyline points="324.52000000000004,335.0 330.56,335.0 333.58000000000004,330.8 342.64000000000004,334.6 348.68,334.6 354.72,332.7 360.76000000000005,334.6 378.88,335.0 384.92,334.7 390.96000000000004,334.9 397.0,334.5 403.04,331.1 409.6,327.2" fill="none" stroke="#73b553" stroke-width="1.0" stroke-linejoin="round"/>
<polyline points="418.7,320.5 426.95000000000005,314.0 434.78000000000003,260.0 442.61,313.6 450.44,329.6 458.27000000000004,329.6 466.1,331.1" fill="none" stroke="#73b553" stroke-width="1.0" stroke-linejoin="round"/>
<polyline points="336.6,335.4 342.64000000000004,332.7 348.68,329.3 354.72,327.4 360.76000000000005,329.0 378.88,309.7 384.92,329.2 390.96000000000004,309.0 397.0,335.4 403.04,333.8 409.6,332.5" fill="none" stroke="#ba2249" stroke-width="1.15" stroke-linejoin="round"/>
<polyline points="418.7,331.7 442.61,328.0 450.44,258.6 458.27000000000004,315.5 466.1,280.4" fill="none" stroke="#ba2249" stroke-width="1.15" stroke-linejoin="round"/>
<circle cx="324.52000000000004" cy="335.0" r="2.0" fill="none" stroke="#73b553" stroke-width="1"/>
<circle cx="330.56" cy="335.0" r="2.0" fill="none" stroke="#73b553" stroke-width="1"/>
<circle cx="333.58000000000004" cy="330.8" r="2.0" fill="none" stroke="#73b553" stroke-width="1"/>
<circle cx="342.64000000000004" cy="334.6" r="2.0" fill="none" stroke="#73b553" stroke-width="1"/>
<circle cx="348.68" cy="334.6" r="2.0" fill="none" stroke="#73b553" stroke-width="1"/>
<circle cx="354.72" cy="332.7" r="2.0" fill="none" stroke="#73b553" stroke-width="1"/>
<circle cx="360.76000000000005" cy="334.6" r="2.0" fill="none" stroke="#73b553" stroke-width="1"/>
<circle cx="378.88" cy="335.0" r="2.0" fill="none" stroke="#73b553" stroke-width="1"/>
<circle cx="384.92" cy="334.7" r="2.0" fill="none" stroke="#73b553" stroke-width="1"/>
<circle cx="390.96000000000004" cy="334.9" r="2.0" fill="none" stroke="#73b553" stroke-width="1"/>
<circle cx="397.0" cy="334.5" r="2.0" fill="none" stroke="#73b553" stroke-width="1"/>
<circle cx="403.04" cy="331.1" r="2.0" fill="none" stroke="#73b553" stroke-width="1"/>
<circle cx="426.95000000000005" cy="314.0" r="2.0" fill="none" stroke="#73b553" stroke-width="1"/>
<circle cx="434.78000000000003" cy="260.0" r="2.0" fill="none" stroke="#73b553" stroke-width="1"/>
<circle cx="442.61" cy="313.6" r="2.0" fill="none" stroke="#73b553" stroke-width="1"/>
<circle cx="450.44" cy="329.6" r="2.0" fill="none" stroke="#73b553" stroke-width="1"/>
<circle cx="458.27000000000004" cy="329.6" r="2.0" fill="none" stroke="#73b553" stroke-width="1"/>
<circle cx="466.1" cy="331.1" r="2.0" fill="none" stroke="#73b553" stroke-width="1"/>
<circle cx="336.6" cy="335.4" r="2.0" fill="#a5001f"/>
<circle cx="342.64000000000004" cy="332.7" r="2.0" fill="#a5001f"/>
<circle cx="348.68" cy="329.3" r="2.0" fill="#a5001f"/>
<circle cx="354.72" cy="327.4" r="2.0" fill="#a5001f"/>
<circle cx="360.76000000000005" cy="329.0" r="2.0" fill="#a5001f"/>
<circle cx="378.88" cy="309.7" r="2.0" fill="#a5001f"/>
<circle cx="384.92" cy="329.2" r="2.0" fill="#a5001f"/>
<circle cx="390.96000000000004" cy="309.0" r="2.0" fill="#a5001f"/>
<circle cx="397.0" cy="335.4" r="2.0" fill="#a5001f"/>
<circle cx="403.04" cy="333.8" r="2.0" fill="#a5001f"/>
<circle cx="442.61" cy="328.0" r="2.0" fill="#a5001f"/>
<circle cx="450.44" cy="258.6" r="2.0" fill="#a5001f"/>
<circle cx="458.27000000000004" cy="315.5" r="2.0" fill="#a5001f"/>
<circle cx="466.1" cy="280.4" r="2.0" fill="#a5001f"/>
<line x1="289.2" y1="447.7" x2="319.4" y2="447.7" stroke="#73b553" stroke-width="1.1" stroke-dasharray="3,2"/>
<circle cx="304.2" cy="447.7" r="2.1" fill="none" stroke="#73b553" stroke-width="1"/>
<text x="323.8" y="451.0" font-size="7.8" text-anchor="start" fill="#111">Viral load</text>
<line x1="289.2" y1="459.2" x2="320.4" y2="459.2" stroke="#ba2249" stroke-width="1.1"/>
<circle cx="305.0" cy="459.2" r="2.1" fill="#a5001f"/>
<text x="323.8" y="461.6" font-size="7.8" fill="#111">IFN-<tspan font-family="Liberation Serif" font-size="8.4">γ</tspan> spot number</text>
</svg>
</body></html>
